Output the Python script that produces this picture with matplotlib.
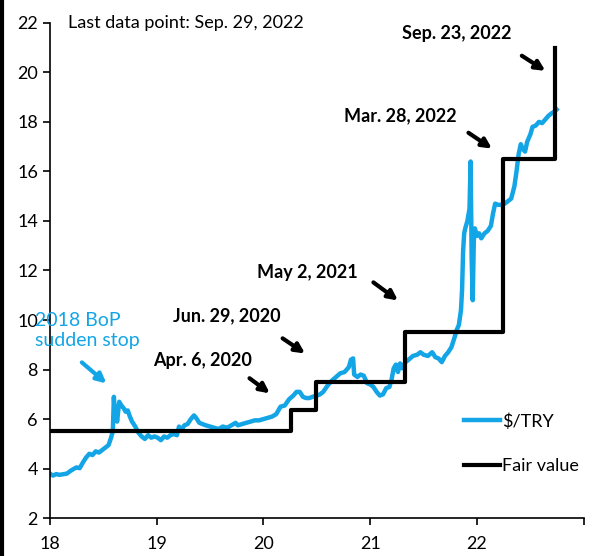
import numpy as np
import matplotlib
matplotlib.use('Agg')
import matplotlib.pyplot as plt
from matplotlib.lines import Line2D

plt.rcParams['font.family'] = ['Lato', 'DejaVu Sans']

# $/TRY (decimal years)
try_dates = [2018.00, 2018.03, 2018.06, 2018.09, 2018.12, 2018.16, 2018.19, 2018.22, 2018.25, 2018.28,
             2018.31, 2018.34, 2018.37, 2018.40, 2018.43, 2018.46, 2018.49, 2018.52, 2018.55, 2018.57,
             2018.59, 2018.60, 2018.61, 2018.62, 2018.63, 2018.65, 2018.67, 2018.69, 2018.71, 2018.73,
             2018.75, 2018.77, 2018.80, 2018.83, 2018.86, 2018.89, 2018.92, 2018.95, 2018.98, 2019.01,
             2019.04, 2019.07, 2019.10, 2019.13, 2019.16, 2019.19, 2019.21, 2019.23, 2019.26, 2019.29,
             2019.32, 2019.35, 2019.37, 2019.40, 2019.43, 2019.46, 2019.50, 2019.54, 2019.58, 2019.62,
             2019.66, 2019.70, 2019.74, 2019.76, 2019.80, 2019.84, 2019.88, 2019.92, 2019.96, 2020.00,
             2020.04, 2020.08, 2020.12, 2020.16, 2020.20, 2020.24, 2020.28, 2020.31, 2020.34, 2020.37,
             2020.40, 2020.43, 2020.46, 2020.50, 2020.53, 2020.56, 2020.60, 2020.64, 2020.68, 2020.72,
             2020.76, 2020.80, 2020.82, 2020.84, 2020.85, 2020.88, 2020.91, 2020.94, 2020.97, 2021.00,
             2021.03, 2021.06, 2021.09, 2021.12, 2021.15, 2021.18, 2021.20, 2021.22, 2021.24, 2021.26,
             2021.28, 2021.30, 2021.33, 2021.36, 2021.40, 2021.44, 2021.47, 2021.50, 2021.54, 2021.58,
             2021.61, 2021.64, 2021.67, 2021.70, 2021.73, 2021.76, 2021.79, 2021.81, 2021.83, 2021.85,
             2021.86, 2021.87, 2021.88, 2021.89, 2021.91, 2021.93, 2021.94, 2021.95, 2021.96, 2021.97,
             2021.98, 2022.00, 2022.02, 2022.04, 2022.07, 2022.10, 2022.13, 2022.15, 2022.17, 2022.20,
             2022.23, 2022.26, 2022.29, 2022.32, 2022.35, 2022.37, 2022.39, 2022.41, 2022.43, 2022.45,
             2022.47, 2022.50, 2022.52, 2022.55, 2022.58, 2022.61, 2022.64, 2022.67, 2022.70, 2022.72,
             2022.745]
try_vals = [3.80, 3.72, 3.78, 3.75, 3.77, 3.80, 3.90, 3.98, 4.05, 4.02,
            4.25, 4.45, 4.60, 4.55, 4.70, 4.65, 4.75, 4.85, 4.95, 5.20,
            5.50, 6.90, 6.00, 6.50, 5.90, 6.70, 6.55, 6.45, 6.30, 6.35,
            6.10, 5.90, 5.70, 5.45, 5.30, 5.20, 5.35, 5.25, 5.30, 5.25,
            5.15, 5.30, 5.25, 5.35, 5.40, 5.35, 5.70, 5.55, 5.75, 5.80,
            6.00, 6.15, 6.05, 5.85, 5.80, 5.75, 5.70, 5.65, 5.60, 5.70,
            5.65, 5.75, 5.85, 5.75, 5.80, 5.85, 5.90, 5.95, 5.95, 6.00,
            6.05, 6.10, 6.20, 6.50, 6.55, 6.80, 6.95, 7.10, 7.10, 6.90,
            6.85, 6.85, 6.90, 6.95, 7.00, 7.10, 7.35, 7.55, 7.70, 7.85,
            7.90, 8.10, 8.40, 8.45, 7.80, 7.70, 7.80, 7.75, 7.45, 7.40,
            7.30, 7.10, 6.95, 7.00, 7.25, 7.30, 7.60, 8.05, 8.20, 7.90,
            8.25, 8.05, 8.30, 8.40, 8.55, 8.60, 8.70, 8.60, 8.55, 8.70,
            8.50, 8.45, 8.30, 8.55, 8.70, 8.90, 9.30, 9.60, 9.80, 10.40,
            11.20, 12.80, 13.50, 13.70, 14.00, 14.50, 16.40, 12.50, 10.80, 13.20,
            13.70, 13.40, 13.50, 13.30, 13.50, 13.60, 13.80, 14.30, 14.70, 14.65,
            14.65, 14.70, 14.80, 14.90, 15.40, 16.00, 16.70, 17.10, 16.90, 16.80,
            17.20, 17.50, 17.80, 17.85, 18.00, 17.95, 18.10, 18.25, 18.35, 18.40,
            18.50]

# fair value steps
fv_dates = [2018.0, 2020.26, 2020.49, 2021.33, 2022.24, 2022.73]
fv_vals = [5.5, 6.35, 7.5, 9.5, 16.5, 21.0]

x_ticks = [2018, 2019, 2020, 2021, 2022, 2023]
x_labels = ['18', '19', '20', '21', '22', '']

blue = '#13a5e6'

fig = plt.figure(figsize=(6, 5.56), dpi=100)
ax = fig.add_axes([0.083, 0.068, 0.89, 0.891])

ax.plot(try_dates, try_vals, color=blue, lw=3.2, label='$/TRY', solid_joinstyle='round')
ax.plot(fv_dates, fv_vals, color='black', lw=3, drawstyle='steps-post', label='Fair value')

ax.set_xlim(2018, 2023)
ax.set_ylim(2, 22)
ax.set_xticks(x_ticks)
ax.set_xticklabels(x_labels)
ax.set_yticks(np.arange(2, 23, 2))
ax.tick_params(axis='both', labelsize=13, length=5, width=1.2, direction='out')
ax.tick_params(axis='x', pad=8)
ax.spines['top'].set_visible(False)
ax.spines['right'].set_visible(False)
ax.spines['left'].set_linewidth(1.2)
ax.spines['bottom'].set_linewidth(1.2)

ax.text(2018.17, 22.0, 'Last data point: Sep. 29, 2022', fontsize=13, va='center', ha='left')

# labels + arrows
notes = [
    ('Sep. 23, 2022', (2021.81, 21.56), (2022.42, 20.67), (2022.64, 20.06)),
    ('Mar. 28, 2022', (2021.28, 18.25), (2021.92, 17.56), (2022.14, 16.92)),
    ('May 2, 2021', (2020.41, 11.92), (2021.03, 11.52), (2021.26, 10.79)),
    ('Jun. 29, 2020', (2019.66, 10.19), (2020.18, 9.26), (2020.39, 8.65)),
    ('Apr. 6, 2020', (2019.43, 8.37), (2019.87, 7.65), (2020.06, 7.04)),
]
for txt, pos, a0, a1 in notes:
    ax.text(pos[0], pos[1], txt, fontsize=13, fontweight='bold', ha='center', va='center')
    ax.annotate('', xy=a1, xytext=a0,
                arrowprops=dict(arrowstyle='-|>', lw=3, color='black', mutation_scale=14,
                                shrinkA=0, shrinkB=0))

ax.text(2017.865, 9.58, '2018 BoP\nsudden stop', fontsize=14, color=blue,
        ha='left', va='center', linespacing=1.25, clip_on=False)
ax.annotate('', xy=(2018.53, 7.44), xytext=(2018.30, 8.29),
            arrowprops=dict(arrowstyle='-|>', lw=3, color=blue, mutation_scale=14,
                            shrinkA=0, shrinkB=0))

ax.legend(loc='upper left', bbox_to_anchor=(0.745, 0.245), frameon=False, fontsize=13,
          handlelength=2.0, handletextpad=0.1, labelspacing=1.6)

fig.add_artist(Line2D([0.003, 0.003], [0, 1], lw=3, color='black', transform=fig.transFigure))

fig.savefig('out.png', dpi=100)
